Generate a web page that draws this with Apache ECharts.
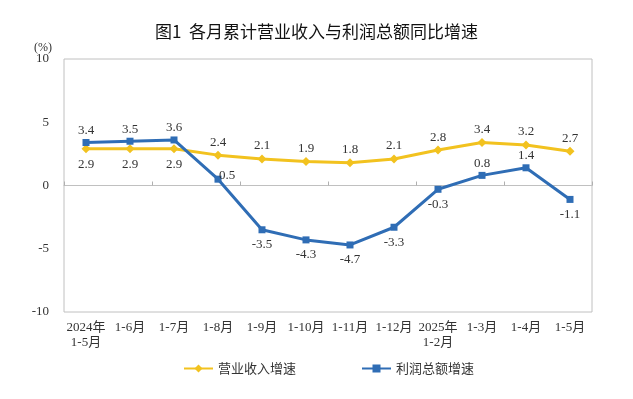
<!DOCTYPE html>
<html>
<head>
<meta charset="utf-8">
<script src="https://cdn.jsdelivr.net/npm/echarts@6/dist/echarts.min.js"></script>
<style>html,body{margin:0;padding:0;background:#fff;}#c{width:633px;height:399px;}</style>
</head>
<body>
<div id="c"></div>
<script>
var categories = ['2024年\n1-5月','1-6月','1-7月','1-8月','1-9月','1-10月','1-11月','1-12月','2025年\n1-2月','1-3月','1-4月','1-5月'];
var revenueGrowth = [2.9, 2.9, 2.9, 2.4, 2.1, 1.9, 1.8, 2.1, 2.8, 3.4, 3.2, 2.7];
var profitGrowth = [3.4, 3.5, 3.6, 0.5, -3.5, -4.3, -4.7, -3.3, -0.3, 0.8, 1.4, -1.1];
var revenueLabelPos = ['bottom','bottom','bottom','top','top','top','top','top','top','top','top','top'];
var profitLabelPos = ['top','top','top','top','bottom','bottom','bottom','bottom','bottom','top','top','bottom'];
var yTicks = [-10, -5, 0, 5, 10];

var serif = '"Liberation Serif","Times New Roman","Noto Sans CJK SC",serif';
var YELLOW = '#F2C21F';
var BLUE = '#2F6DB5';

function buildData(values, positions, special) {
  return values.map(function (v, i) {
    var pos = positions[i];
    var lab = { position: pos, distance: pos === 'top' ? 2 : 5 };
    if (special && special[i]) { Object.assign(lab, special[i]); }
    return { value: v, label: lab };
  });
}

var chart = echarts.init(document.getElementById('c'), null, { renderer: 'canvas' });
chart.setOption({
  backgroundColor: '#fff',
  animation: false,
  title: [
    { text: '图1  各月累计营业收入与利润总额同比增速', left: 'center', top: 23, padding: 0,
      textStyle: { fontSize: 17, fontWeight: 'normal', color: '#111', fontFamily: '"Noto Sans CJK SC",sans-serif' } },
    { text: '(%)', left: 34, top: 42, padding: 0,
      textStyle: { fontSize: 12, fontWeight: 'normal', color: '#333', fontFamily: serif } }
  ],
  grid: { left: 64, right: 41, top: 59, bottom: 87, show: true, borderColor: '#c0c0c0', borderWidth: 1, containLabel: false },
  legend: {
    left: 178, top: 357, itemWidth: 29, itemHeight: 10, itemGap: 65,
    textStyle: { fontSize: 13, color: '#333', fontFamily: '"Noto Sans CJK SC",sans-serif' },
    data: ['营业收入增速', '利润总额增速']
  },
  xAxis: [
    { type: 'category', data: categories, boundaryGap: true,
      axisLine: { onZero: true, lineStyle: { color: '#c0c0c0', width: 1 } },
      axisTick: { show: true, inside: true, length: 4, lineStyle: { color: '#b0b0b0' } },
      axisLabel: { show: false }, splitLine: { show: false } },
    { type: 'category', data: categories, boundaryGap: true, position: 'bottom',
      axisLine: { show: false, onZero: false }, axisTick: { show: false },
      axisLabel: { show: true, margin: 8, interval: 0, fontSize: 13, lineHeight: 15, color: '#333', fontFamily: serif },
      splitLine: { show: false } }
  ],
  yAxis: {
    type: 'value', min: yTicks[0], max: yTicks[yTicks.length - 1], interval: 5,
    axisLine: { show: false }, axisTick: { show: false }, splitLine: { show: false },
    axisLabel: { margin: 15, fontSize: 13, color: '#333', fontFamily: serif }
  },
  series: [
    { name: '营业收入增速', type: 'line', xAxisIndex: 0,
      data: buildData(revenueGrowth, revenueLabelPos),
      symbol: 'diamond', symbolSize: 9,
      lineStyle: { color: YELLOW, width: 3 }, itemStyle: { color: YELLOW },
      label: { show: true, fontSize: 13, color: '#333', fontFamily: serif },
      z: 2 },
    { name: '利润总额增速', type: 'line', xAxisIndex: 0,
      data: buildData(profitGrowth, profitLabelPos, { 3: { offset: [9, 8] } }),
      symbol: 'rect', symbolSize: 7,
      lineStyle: { color: BLUE, width: 3 }, itemStyle: { color: BLUE },
      label: { show: true, fontSize: 13, color: '#333', fontFamily: serif },
      z: 3 }
  ]
});
</script>
</body>
</html>
